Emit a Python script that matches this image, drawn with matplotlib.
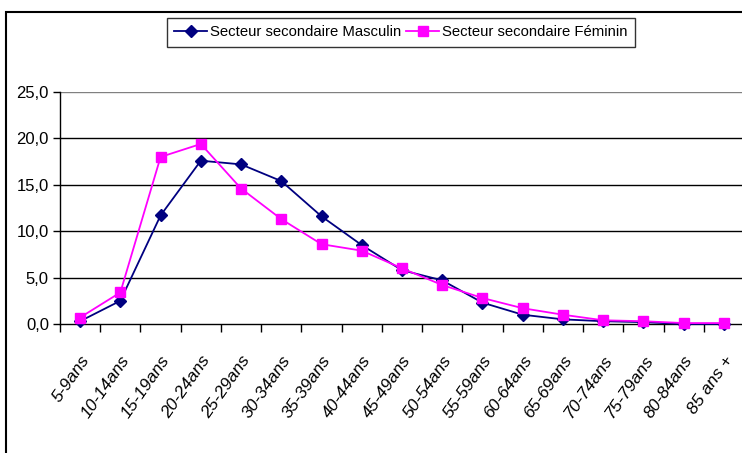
import numpy as np
import matplotlib
matplotlib.use('Agg')
import matplotlib.pyplot as plt
from matplotlib.patches import Rectangle
from matplotlib.ticker import FixedLocator, FuncFormatter

# Data
categories = ['5-9ans', '10-14ans', '15-19ans', '20-24ans', '25-29ans', '30-34ans',
              '35-39ans', '40-44ans', '45-49ans', '50-54ans', '55-59ans', '60-64ans',
              '65-69ans', '70-74ans', '75-79ans', '80-84ans', '85 ans +']
masculin = [0.3, 2.5, 11.7, 17.6, 17.2, 15.4, 11.6, 8.5, 5.8, 4.7, 2.3, 1.0, 0.5, 0.3, 0.2, 0.0, 0.0]
feminin = [0.7, 3.4, 18.0, 19.4, 14.6, 11.3, 8.6, 7.9, 6.0, 4.2, 2.8, 1.7, 1.0, 0.4, 0.3, 0.1, 0.1]
y_ticks = [0, 5, 10, 15, 20, 25]

plt.rcParams['font.family'] = ['Liberation Sans', 'DejaVu Sans']

W, H = 742, 453
fig = plt.figure(figsize=(W / 100, H / 100), dpi=100)

# outer frame of the chart area
fig.patches.append(Rectangle((6 / W, -0.05), 1.1, 1 - 12 / H + 0.05, transform=fig.transFigure,
                             fill=False, edgecolor='black', linewidth=1.5))

ax = fig.add_axes([60 / W, (H - 324) / H, (744 - 60) / W, (324 - 92) / H])
x = np.arange(len(categories))

ax.plot(x, masculin, color='#000080', marker='D', markersize=6.5, linewidth=1.3,
        label='Secteur secondaire Masculin', clip_on=False, zorder=3)
ax.plot(x, feminin, color='#FF00FF', marker='s', markersize=7, linewidth=1.3,
        label='Secteur secondaire Féminin', clip_on=False, zorder=4)

ax.set_xlim(-0.5, len(categories) - 0.5)
ax.set_ylim(0, 25)

for v in y_ticks[1:]:
    ax.axhline(v, color='#808080' if v == 25 else 'black', linewidth=1.0, zorder=1)

for s in ['top', 'right']:
    ax.spines[s].set_visible(False)
ax.spines['left'].set_linewidth(1.0)
ax.spines['bottom'].set_linewidth(1.0)

ax.yaxis.set_major_locator(FixedLocator(y_ticks))
ax.yaxis.set_major_formatter(FuncFormatter(lambda v, p: f'{v:.1f}'.replace('.', ',')))
ax.tick_params(axis='y', length=5, width=1, labelsize=12, pad=3)

ax.xaxis.set_major_locator(FixedLocator(np.arange(len(categories) + 1) - 0.5))
ax.tick_params(axis='x', which='major', length=6, width=1, labelbottom=False)
ax.set_xticks(x, minor=True)
ax.tick_params(axis='x', which='minor', length=0, labelsize=12.5, pad=21)
ax.set_xticklabels(categories, minor=True, rotation=55, ha='right', va='top',
                   rotation_mode='anchor', style='italic')

leg = fig.legend(loc='center', bbox_to_anchor=(401 / W, 1 - 32.5 / H), ncol=2,
                 frameon=True, fancybox=False, edgecolor='black', fontsize=10.7,
                 handlelength=2.2, handletextpad=0.2, columnspacing=0.35,
                 borderpad=0.5, borderaxespad=0)
leg.get_frame().set_linewidth(1.0)

fig.savefig('out.png', dpi=100)
